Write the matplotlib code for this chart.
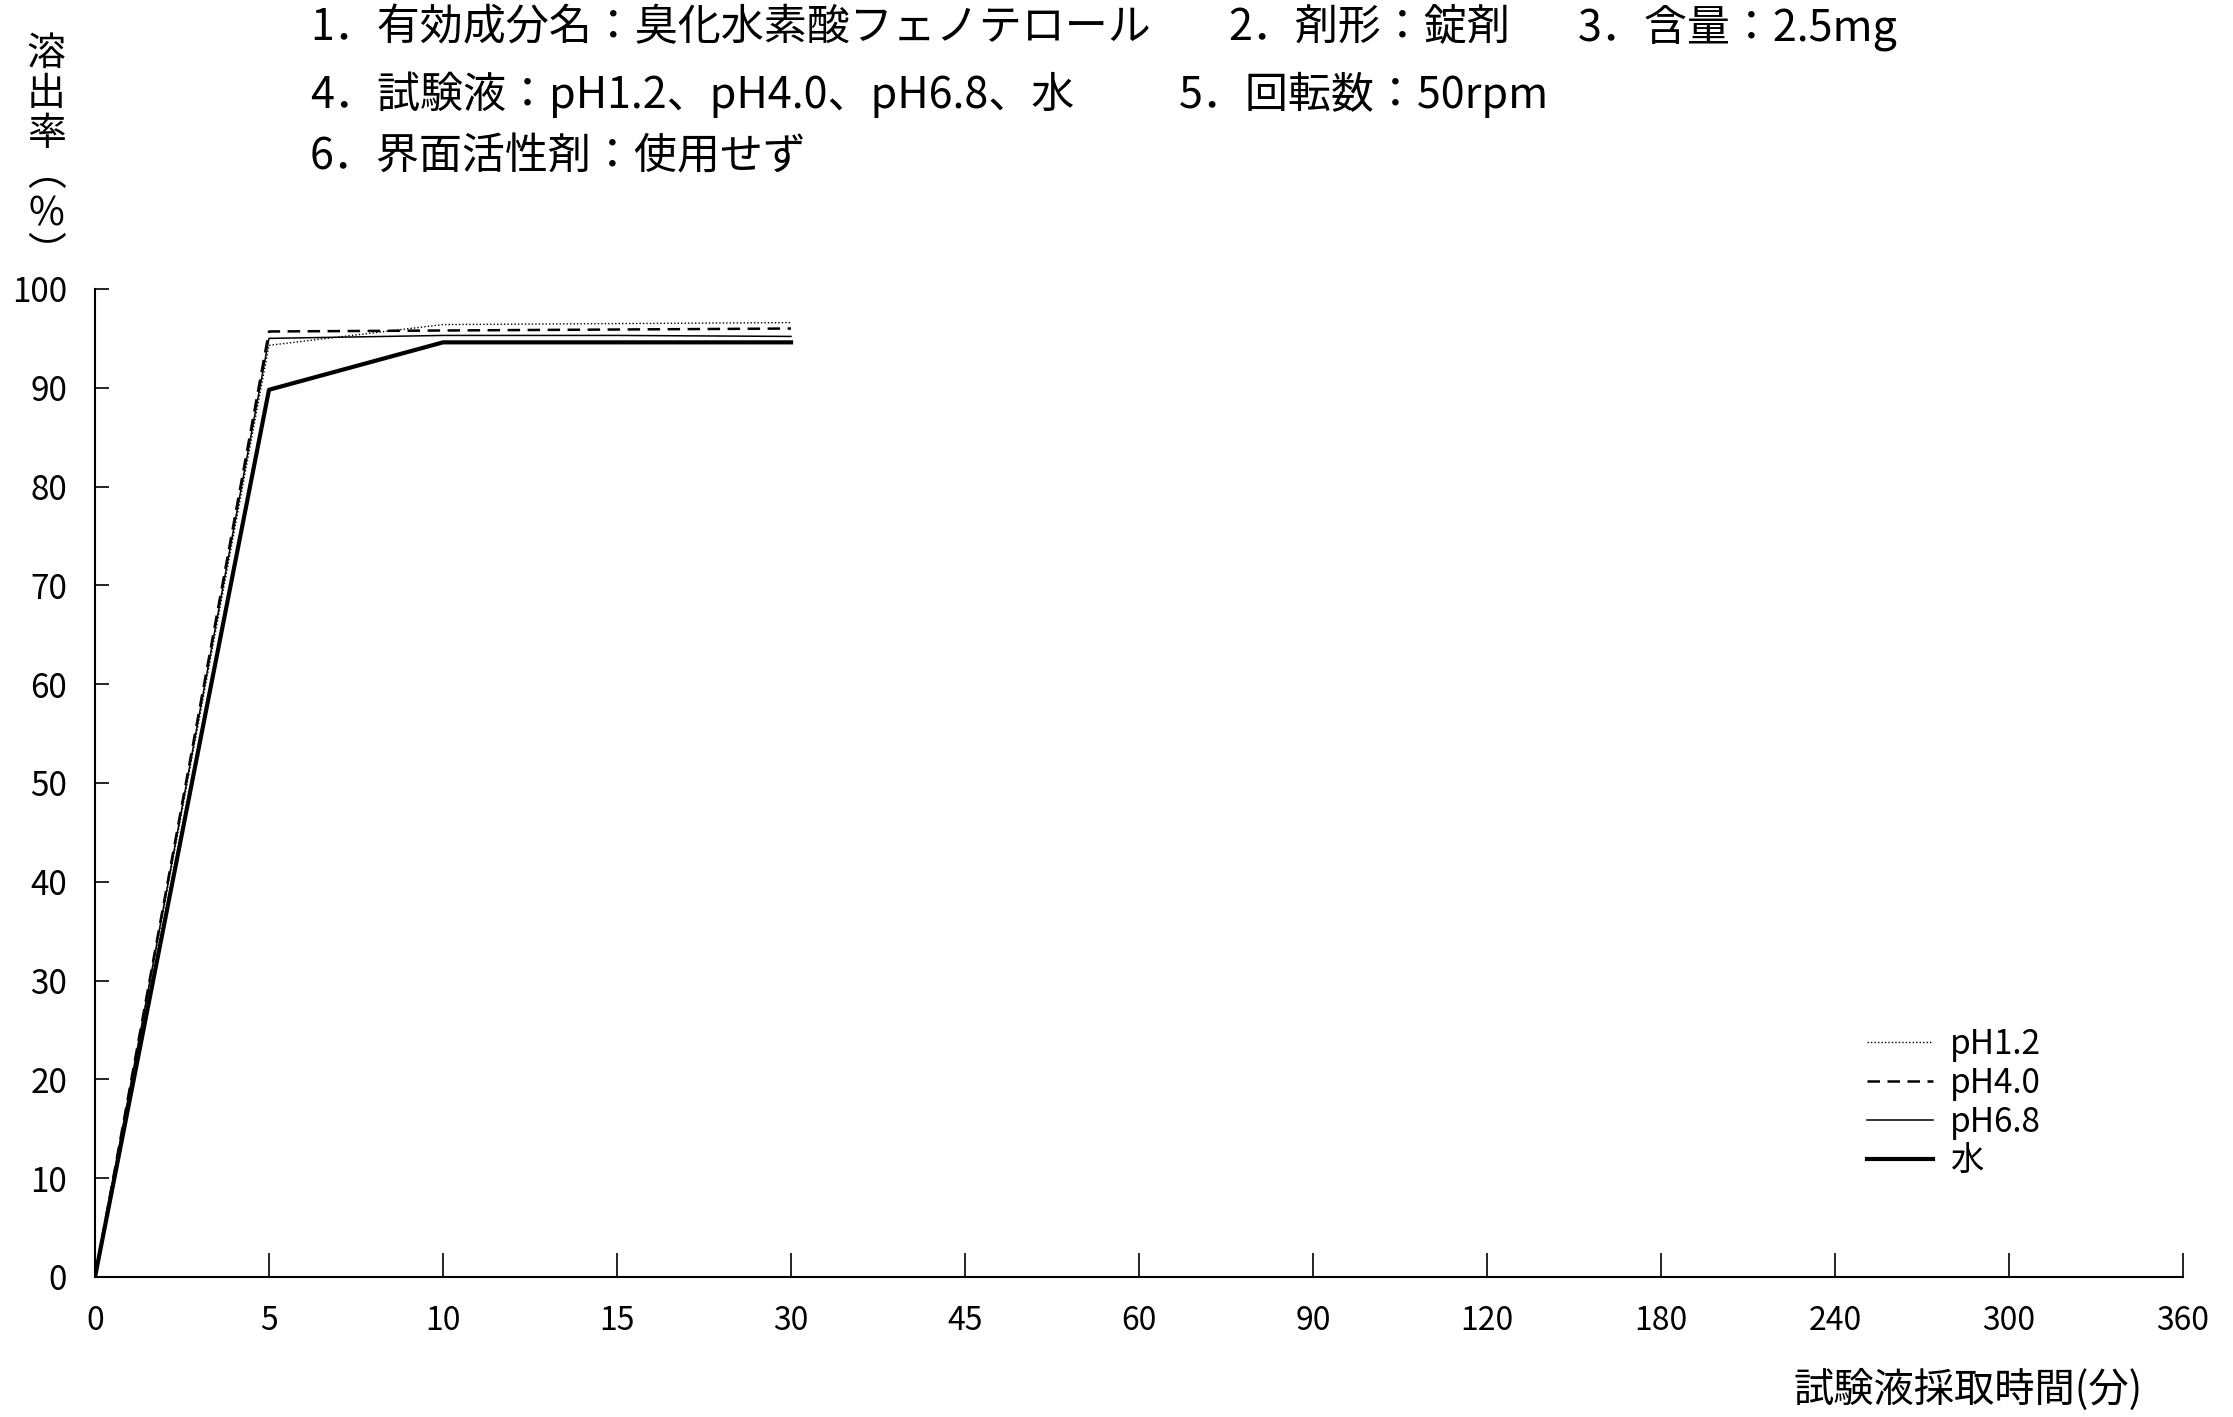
import matplotlib
matplotlib.use('Agg')
import matplotlib.pyplot as plt
import numpy as np

plt.rcParams['font.family'] = ['Noto Sans CJK JP', 'DejaVu Sans']

# sampling times (categorical, equally spaced on the axis)
time_labels = ['0', '5', '10', '15', '30', '45', '60', '90', '120', '180', '240', '300', '360']
measured_times = ['0', '5', '10', '15', '30']

ph12 = [0, 94.3, 96.4, 96.5, 96.6]
ph40 = [0, 95.7, 95.8, 95.9, 96.0]
ph68 = [0, 95.0, 95.3, 95.3, 95.2]
water = [0, 89.8, 94.6, 94.6, 94.6]

series_labels = ['pH1.2', 'pH4.0', 'pH6.8', '水']

header_lines = [
    [(310, '1．有効成分名：臭化水素酸フェノテロール'), (1228, '2．剤形：錠剤'), (1578, '3．含量：2.5mg')],
    [(310, '4．試験液：pH1.2、pH4.0、pH6.8、水'), (1179, '5．回転数：50rpm')],
    [(310, '6．界面活性剤：使用せず')],
]
header_y = [28, 95, 157]

W, H = 2233, 1417
fig = plt.figure(figsize=(W / 100, H / 100), dpi=100)
ax = fig.add_axes([95 / W, 1 - 1277 / H, (2183 - 95) / W, (1277 - 289) / H])

x_all = np.arange(len(time_labels))
x_meas = np.array([time_labels.index(t) for t in measured_times])

ax.plot(x_meas, ph12, color='black', linestyle=(0, (1, 1.5)), linewidth=1.0, label=series_labels[0])
ax.plot(x_meas, ph40, color='black', linestyle=(0, (5, 3)), linewidth=1.8, label=series_labels[1])
ax.plot(x_meas, ph68, color='black', linestyle='-', linewidth=1.1, label=series_labels[2])
ax.plot(x_meas, water, color='black', linestyle='-', linewidth=3.0, label=series_labels[3])

ax.set_xlim(0, len(time_labels) - 1)
ax.set_ylim(0, 100)
ax.set_xticks(x_all)
ax.set_xticklabels(time_labels)
ax.set_yticks(np.arange(0, 101, 10))

for s in ['top', 'right']:
    ax.spines[s].set_visible(False)
for s in ['left', 'bottom']:
    ax.spines[s].set_linewidth(1.5)

ax.tick_params(axis='x', direction='in', length=17, width=1.2, pad=20, labelsize=23)
ax.tick_params(axis='y', direction='in', length=10, width=1.2, pad=20, labelsize=24)

leg = ax.legend(loc='upper left', bbox_to_anchor=(1850 / W, 1 - 1010 / H), bbox_transform=fig.transFigure,
                frameon=False, fontsize=24, handlelength=2.0, handletextpad=0.5, labelspacing=0.12,
                borderpad=0)

# header text
for y, segs in zip(header_y, header_lines):
    for x, s in segs:
        fig.text(x / W, 1 - y / H, s, fontsize=31, ha='left', va='center')

# vertical y label
fig.text(46 / W, 1 - 34 / H, '溶\n出\n率\n︵\n%\n︶', fontsize=28, ha='center', va='top', linespacing=1.0)

# x label
fig.text(2143 / W, 1 - 1390 / H, '試験液採取時間(分)', fontsize=29, ha='right', va='center')

fig.savefig('out.png', dpi=100)
